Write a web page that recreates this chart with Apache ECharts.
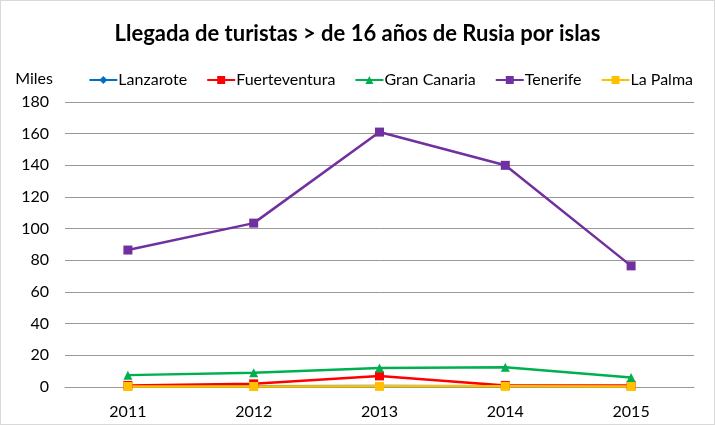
<!DOCTYPE html>
<html>
<head>
  <meta charset="utf-8" />
  <title>Rusia por islas</title>
  <style>
    html, body { margin: 0; padding: 0; background: #fff; }
    #main { width: 715px; height: 425px; box-sizing: border-box; border: 1px solid #d9d9d9; }
  </style>
</head>
<body>
  <div id="main"></div>
  <script src="https://cdn.jsdelivr.net/npm/echarts@6/dist/echarts.min.js"></script>
  <script>
    var years = ['2011', '2012', '2013', '2014', '2015'];
    var lanzarote = [0.5, 0.5, 0.6, 0.5, 0.4];
    var fuerteventura = [1, 2, 7, 1, 1];
    var granCanaria = [7.5, 9, 12, 12.5, 6];
    var tenerife = [86.5, 103.5, 161, 140, 76.5];
    var laPalma = [0.3, 0.3, 0.4, 0.4, 0.3];

    var font = 'Lato';
    var myChart = echarts.init(document.getElementById('main'));

    function line(name, data, color, symbol, size) {
      return {
        name: name,
        type: 'line',
        data: data,
        symbol: symbol,
        symbolSize: size,
        lineStyle: { color: color, width: 2.5 },
        itemStyle: { color: color },
        emphasis: { disabled: true }
      };
    }

    var option = {
      animation: false,
      title: {
        text: 'Llegada de turistas > de 16 años de Rusia por islas',
        left: 'center',
        top: 17,
        textStyle: { fontFamily: font, fontSize: 22, fontWeight: 'bold', color: '#000' }
      },
      legend: {
        top: 66,
        right: 16,
        itemGap: 19,
        itemWidth: 28,
        itemHeight: 10,
        textStyle: { fontFamily: font, fontSize: 16, color: '#000', padding: [0, 0, 0, -4] },
        data: ['Lanzarote', 'Fuerteventura', 'Gran Canaria', 'Tenerife', 'La Palma']
      },
      grid: { left: 64, right: 20, top: 101, bottom: 37 },
      xAxis: {
        type: 'category',
        data: years,
        boundaryGap: true,
        axisLine: { lineStyle: { color: '#999' } },
        axisTick: { show: false },
        axisLabel: { fontFamily: font, fontSize: 16, color: '#000', margin: 17 }
      },
      yAxis: {
        type: 'value',
        name: 'Miles',
        nameLocation: 'end',
        nameGap: 15,
        nameTextStyle: { fontFamily: font, fontSize: 16, color: '#000', align: 'right', padding: [0, 12, 0, 0] },
        min: 0,
        max: 180,
        interval: 20,
        axisLine: { show: false },
        axisTick: { show: false },
        axisLabel: { fontFamily: font, fontSize: 16, color: '#000', margin: 16 },
        splitLine: { lineStyle: { color: '#999' } }
      },
      series: [
        line('Lanzarote', lanzarote, '#0070c0', 'diamond', 8),
        line('Fuerteventura', fuerteventura, '#ff0000', 'rect', 9),
        line('Gran Canaria', granCanaria, '#00b050', 'triangle', 9),
        line('Tenerife', tenerife, '#7030a0', 'rect', 9),
        line('La Palma', laPalma, '#ffc000', 'rect', 9)
      ]
    };
    myChart.setOption(option);
  </script>
</body>
</html>
